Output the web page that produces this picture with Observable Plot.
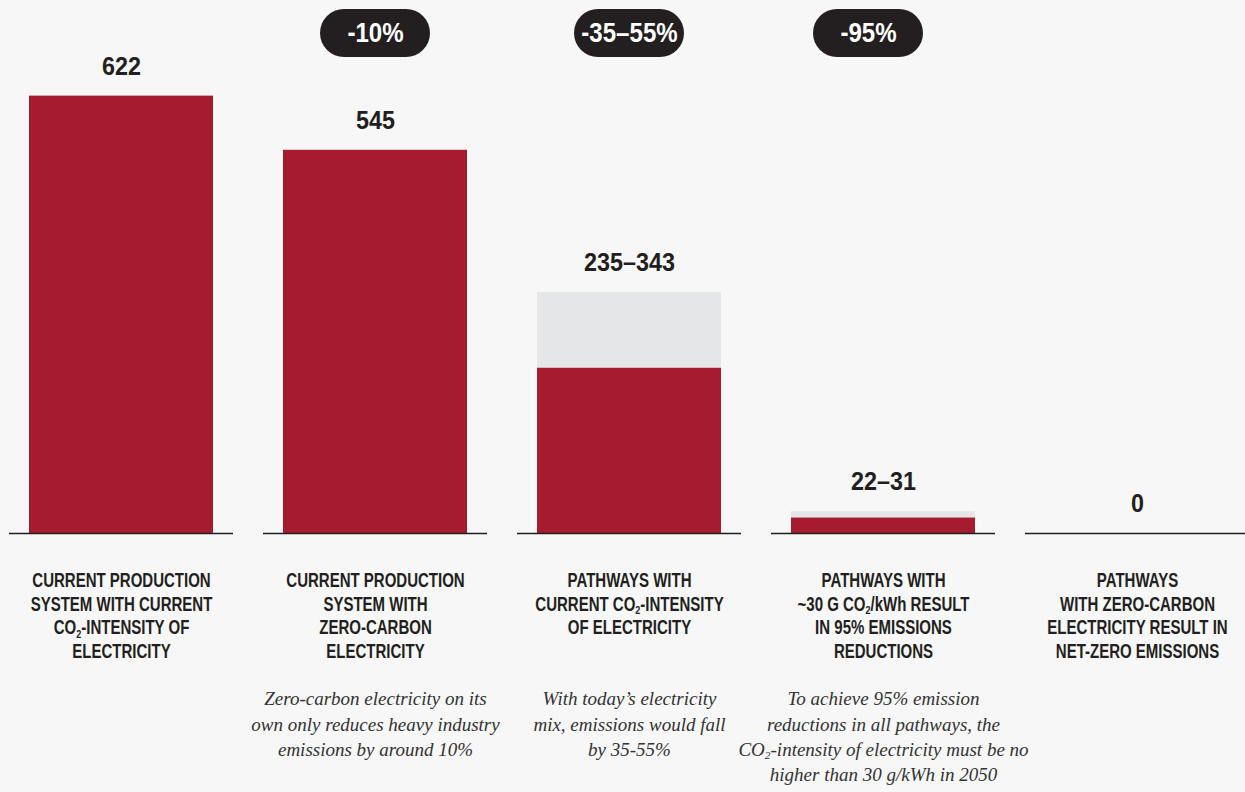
<!DOCTYPE html>
<html>
<head>
<meta charset="utf-8">
<script src="https://cdn.jsdelivr.net/npm/d3@7"></script>
<script src="https://cdn.jsdelivr.net/npm/@observablehq/plot@0.6"></script>
<style>
  html, body { margin: 0; padding: 0; background: #f7f7f7; }
  #chart svg { display: block; }
</style>
</head>
<body>
<div id="chart"></div>
<script>
// ---- data ----
const categories = [
  "CURRENT PRODUCTION\nSYSTEM WITH CURRENT\nCO₂-INTENSITY OF\nELECTRICITY",
  "CURRENT PRODUCTION\nSYSTEM WITH\nZERO-CARBON\nELECTRICITY",
  "PATHWAYS WITH\nCURRENT CO₂-INTENSITY\nOF ELECTRICITY",
  "PATHWAYS WITH\n~30 G CO₂/kWh RESULT\nIN 95% EMISSIONS\nREDUCTIONS",
  "PATHWAYS\nWITH ZERO-CARBON\nELECTRICITY RESULT IN\nNET-ZERO EMISSIONS"
];
const lowValues  = [622, 545, 235, 22, 0];
const highValues = [622, 545, 343, 31, 0];
const valueLabels = ["622", "545", "235–343", "22–31", "0"];
const captions = [
  "",
  "Zero-carbon electricity on its\nown only reduces heavy industry\nemissions by around 10%",
  "With today’s electricity\nmix, emissions would fall\nby 35-55%",
  "To achieve 95% emission\nreductions in all pathways, the\nCO₂-intensity of electricity must be no\nhigher than 30 g/kWh in 2050",
  ""
];
const pillCategories = [categories[1], categories[2], categories[3]];
const pillLabels = ["-10%", "-35–55%", "-95%"];

const rows = categories.map((c, i) => ({
  cat: c, low: lowValues[i], high: highValues[i], label: valueLabels[i], caption: captions[i]
}));
const pills = pillCategories.map((c, i) => ({cat: c, label: pillLabels[i]}));

const RED = "#a51c2e", GREY = "#e5e6e8", INK = "#231f20";
const SANS = "'Liberation Sans', Arial, sans-serif";
const SERIF = "'Liberation Serif', 'DejaVu Serif', serif";

// pill badge marks (the last badge sits slightly left of its bar in the original)
function pillMarks(data, dx) {
  return [
    Plot.cell(data, {x: "cat", fill: INK, rx: 24, ry: 24, dx,
      insetLeft: 37, insetRight: 37, insetTop: 9, insetBottom: 476}),
    Plot.text(data, {x: "cat", text: "label", frameAnchor: "top", lineAnchor: "middle", dy: 33, dx,
      fill: "white", className: "cond-pill",
      fontFamily: SANS, fontWeight: "bold", fontSize: 28})
  ];
}

const chart = Plot.plot({
  width: 1245,
  height: 792,
  marginTop: 0,
  marginBottom: 259,
  marginLeft: 28,
  marginRight: 16,
  style: {background: "#f7f7f7", color: INK},
  x: {domain: categories, paddingInner: 0.276, paddingOuter: 0, axis: null},
  y: {domain: [0, 758], axis: null},
  marks: [
    Plot.barY(rows, {x: "cat", y1: "low", y2: "high", fill: GREY}),
    Plot.barY(rows, {x: "cat", y1: 0, y2: "low", fill: RED}),
    Plot.tickY(rows, {x: "cat", y: 0, stroke: INK, strokeWidth: 1.3, insetLeft: -20, insetRight: -20}),
    Plot.text(rows, {x: "cat", y: "high", text: "label", dy: -30, fill: INK, className: "cond-num",
      fontFamily: SANS, fontWeight: "bold", fontSize: 26.5}),
    ...pillMarks(pills.slice(0, 2), 0),
    ...pillMarks(pills.slice(2), -15),
    Plot.text(rows, {x: "cat", y: 0, text: "cat", lineAnchor: "top", dy: 36, lineHeight: 1.23,
      className: "cond-cat", fill: INK, fontFamily: SANS, fontWeight: "bold", fontSize: 19.5}),
    Plot.text(rows, {x: "cat", y: 0, text: "caption", lineAnchor: "top", dy: 154, lineHeight: 1.33,
      fill: "#333", fontFamily: SERIF, fontStyle: "italic", fontSize: 19})
  ]
});

// emulate a condensed face by squeezing each label horizontally around its anchor
const squeeze = {"cond-num": 0.88, "cond-pill": 0.86, "cond-cat": 0.77};
Object.entries(squeeze).forEach(([cls, s]) => {
  chart.querySelectorAll(`g.${cls} text`).forEach(t => {
    const tr = t.getAttribute("transform");
    if (tr) {
      t.setAttribute("transform", `${tr} scale(${s},1)`);
    } else {
      const x = +t.getAttribute("x") || 0, y = +t.getAttribute("y") || 0;
      t.removeAttribute("x"); t.removeAttribute("y");
      t.setAttribute("transform", `translate(${x},${y}) scale(${s},1)`);
    }
  });
});

// subscript the "2" in CO₂
chart.querySelectorAll("text, tspan").forEach(el => {
  if (el.children.length === 0 && el.textContent.includes("₂")) {
    const parts = el.textContent.split("₂");
    el.textContent = "";
    parts.forEach((p, i) => {
      if (i > 0) {
        const sub = document.createElementNS("http://www.w3.org/2000/svg", "tspan");
        sub.setAttribute("dy", "0.3em");
        sub.setAttribute("font-size", "60%");
        sub.textContent = "2";
        el.appendChild(sub);
        const rest = document.createElementNS("http://www.w3.org/2000/svg", "tspan");
        rest.setAttribute("dy", "-0.18em");
        rest.textContent = p;
        el.appendChild(rest);
      } else {
        el.appendChild(document.createTextNode(p));
      }
    });
  }
});

document.getElementById("chart").appendChild(chart);
</script>
</body>
</html>
